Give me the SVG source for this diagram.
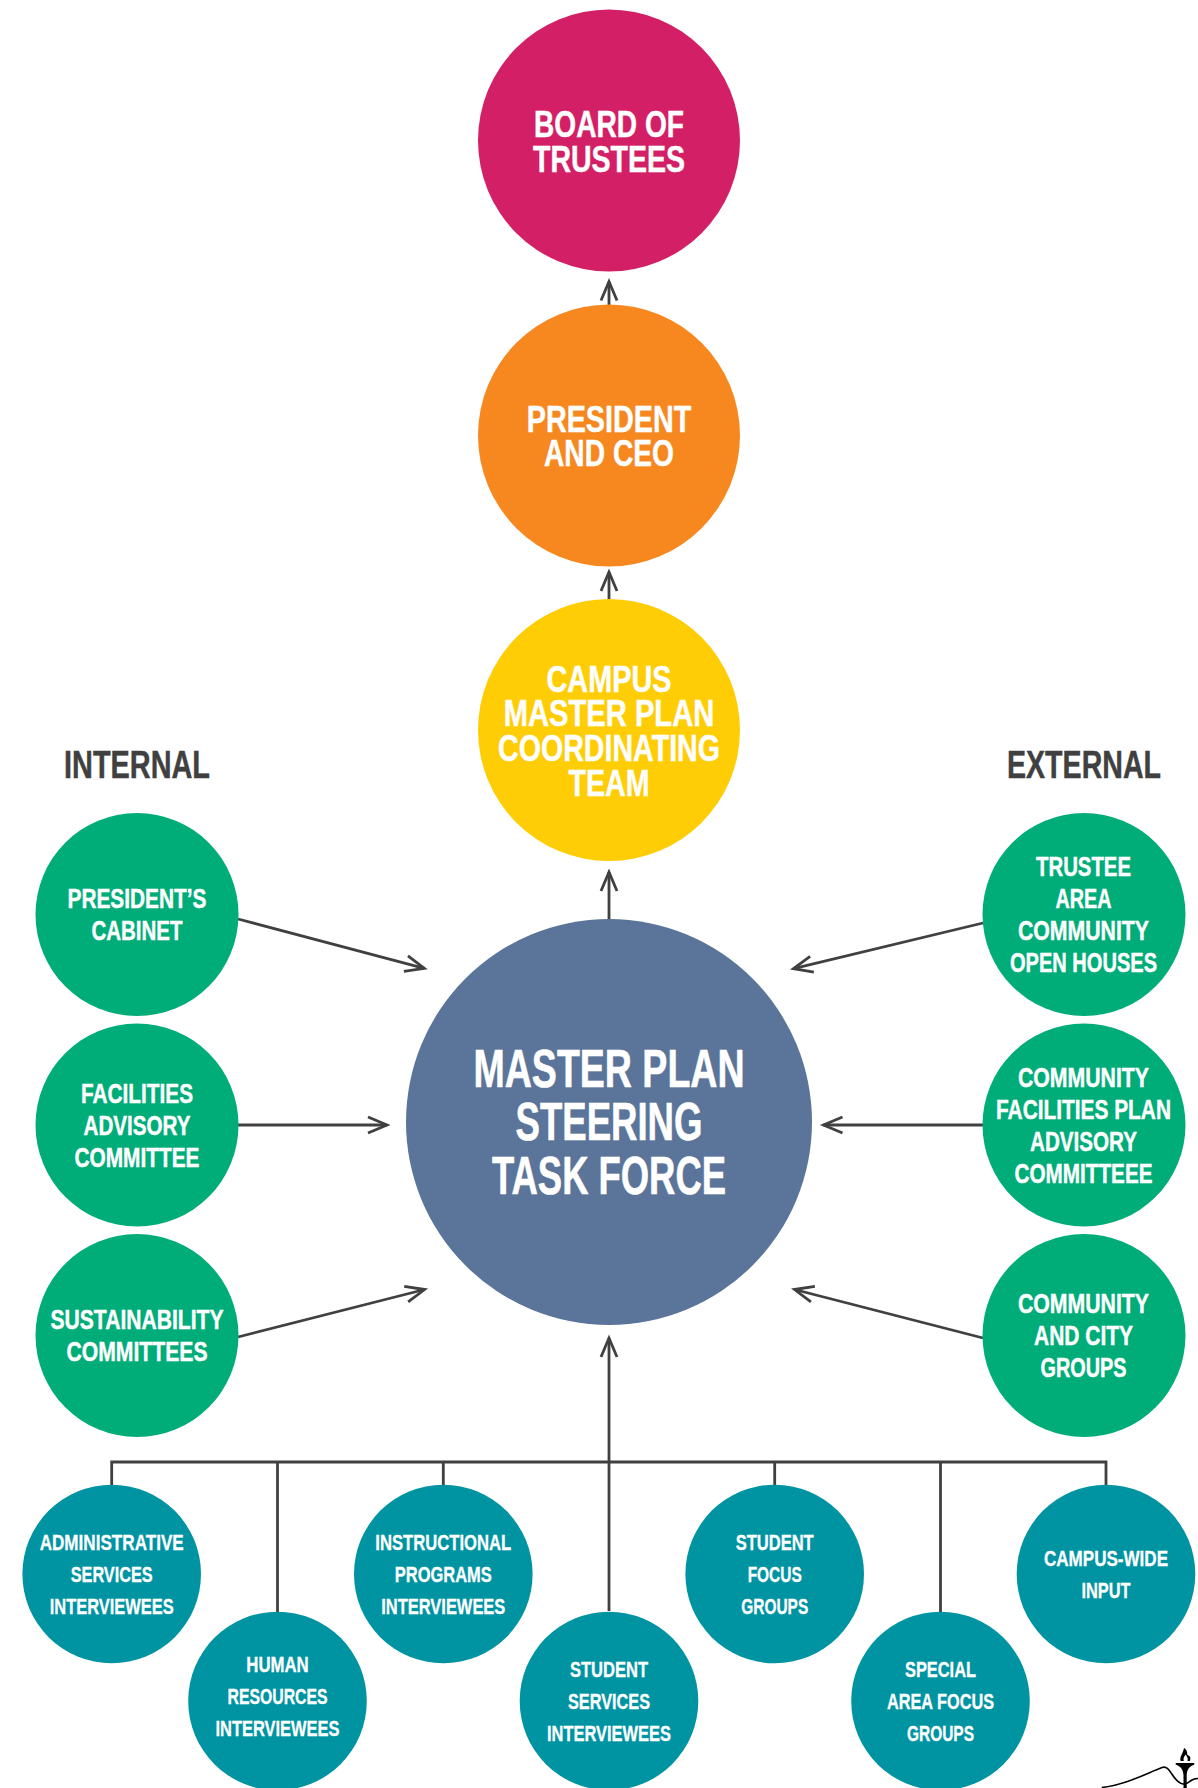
<svg xmlns="http://www.w3.org/2000/svg" width="1198" height="1788" viewBox="0 0 1198 1788">
<style>
text{font-family:"Liberation Sans Narrow","Liberation Sans",Arial,sans-serif;font-weight:700;fill:#fff;stroke:#fff;stroke-width:.45;text-anchor:middle}
.big{font-size:37px}.tf{font-size:54px;stroke-width:.6}.g{font-size:27px}.t{font-size:21.5px;stroke-width:.3}.h{font-size:38px;fill:#404040;stroke:#404040}
.c{stroke:#404040;stroke-width:2.8;fill:none}
.a{marker-end:url(#arrow)}
</style>
<defs>
<marker id="arrow" markerUnits="userSpaceOnUse" viewBox="-24 -11 30 22" refX="0" refY="0" markerWidth="30" markerHeight="22" orient="auto">
<path d="M-19 -8 L0 0 L-19 8" fill="none" stroke="#404040" stroke-width="2.8"/>
</marker>
</defs>
<g id="connectors">
<path class="c a" d="M609 305V281.5"/>
<path class="c a" d="M609 600V572"/>
<path class="c a" d="M609 920V872"/>
<path class="c a" d="M609 1611V1338"/>
<path class="c a" d="M238 919L424.3 968.4"/>
<path class="c a" d="M238 1125H387"/>
<path class="c a" d="M238 1337L424.6 1289.5"/>
<path class="c a" d="M983 923L793.5 968.7"/>
<path class="c a" d="M983 1125H823.5"/>
<path class="c a" d="M983 1338L794.5 1289.5"/>
<path class="c" d="M111.7 1485V1462H1106V1485M277.5 1462V1612M443.3 1462V1485M774.7 1462V1485M940.5 1462V1612"/>
</g>
<g id="board"><circle cx="609" cy="140.5" r="131" fill="#D31F66"/><text class="big" x="609" y="136.5" textLength="150" lengthAdjust="spacingAndGlyphs">BOARD OF</text><text class="big" x="609" y="171.5" textLength="152" lengthAdjust="spacingAndGlyphs">TRUSTEES</text></g>
<g id="president"><circle cx="609" cy="435.5" r="131" fill="#F78820"/><text class="big" x="609" y="432" textLength="164.5" lengthAdjust="spacingAndGlyphs">PRESIDENT</text><text class="big" x="609" y="466" textLength="130" lengthAdjust="spacingAndGlyphs">AND CEO</text></g>
<g id="coordinating"><circle cx="609" cy="730" r="131" fill="#FFCD05"/><text class="big" x="609" y="691.7" textLength="125" lengthAdjust="spacingAndGlyphs">CAMPUS</text><text class="big" x="609" y="726" textLength="210.5" lengthAdjust="spacingAndGlyphs">MASTER PLAN</text><text class="big" x="609" y="760.5" textLength="222" lengthAdjust="spacingAndGlyphs">COORDINATING</text><text class="big" x="609" y="795.5" textLength="81" lengthAdjust="spacingAndGlyphs">TEAM</text></g>
<g id="taskforce"><circle cx="609" cy="1122" r="203" fill="#5B7499"/><text class="tf" x="609" y="1087" textLength="271" lengthAdjust="spacingAndGlyphs">MASTER PLAN</text><text class="tf" x="609" y="1140" textLength="187" lengthAdjust="spacingAndGlyphs">STEERING</text><text class="tf" x="609" y="1194" textLength="234" lengthAdjust="spacingAndGlyphs">TASK FORCE</text></g>
<g id="internal-label"><text class="h" x="137" y="778" textLength="146" lengthAdjust="spacingAndGlyphs">INTERNAL</text></g>
<g id="external-label"><text class="h" x="1084" y="778" textLength="154" lengthAdjust="spacingAndGlyphs">EXTERNAL</text></g>
<g id="cabinet"><circle cx="137" cy="914.5" r="101.5" fill="#00AC78"/><text class="g" x="137" y="908" textLength="139" lengthAdjust="spacingAndGlyphs">PRESIDENT’S</text><text class="g" x="137" y="940" textLength="91" lengthAdjust="spacingAndGlyphs">CABINET</text></g>
<g id="facilities"><circle cx="137" cy="1125" r="101.5" fill="#00AC78"/><text class="g" x="137" y="1103" textLength="112" lengthAdjust="spacingAndGlyphs">FACILITIES</text><text class="g" x="137" y="1135" textLength="107" lengthAdjust="spacingAndGlyphs">ADVISORY</text><text class="g" x="137" y="1167" textLength="125" lengthAdjust="spacingAndGlyphs">COMMITTEE</text></g>
<g id="sustainability"><circle cx="137" cy="1335.5" r="101.5" fill="#00AC78"/><text class="g" x="137" y="1329" textLength="173" lengthAdjust="spacingAndGlyphs">SUSTAINABILITY</text><text class="g" x="137" y="1361" textLength="141" lengthAdjust="spacingAndGlyphs">COMMITTEES</text></g>
<g id="openhouses"><circle cx="1084" cy="914.5" r="101.5" fill="#00AC78"/><text class="g" x="1083.5" y="876" textLength="95" lengthAdjust="spacingAndGlyphs">TRUSTEE</text><text class="g" x="1083.5" y="908" textLength="56" lengthAdjust="spacingAndGlyphs">AREA</text><text class="g" x="1083.5" y="940" textLength="131" lengthAdjust="spacingAndGlyphs">COMMUNITY</text><text class="g" x="1083.5" y="972" textLength="147" lengthAdjust="spacingAndGlyphs">OPEN HOUSES</text></g>
<g id="cfpac"><circle cx="1084" cy="1125" r="101.5" fill="#00AC78"/><text class="g" x="1083.5" y="1087" textLength="131" lengthAdjust="spacingAndGlyphs">COMMUNITY</text><text class="g" x="1083.5" y="1119" textLength="175" lengthAdjust="spacingAndGlyphs">FACILITIES PLAN</text><text class="g" x="1083.5" y="1151" textLength="107" lengthAdjust="spacingAndGlyphs">ADVISORY</text><text class="g" x="1083.5" y="1183" textLength="138" lengthAdjust="spacingAndGlyphs">COMMITTEEE</text></g>
<g id="cityg"><circle cx="1084" cy="1335.5" r="101.5" fill="#00AC78"/><text class="g" x="1083.5" y="1313" textLength="131" lengthAdjust="spacingAndGlyphs">COMMUNITY</text><text class="g" x="1083.5" y="1345" textLength="99" lengthAdjust="spacingAndGlyphs">AND CITY</text><text class="g" x="1083.5" y="1377" textLength="86" lengthAdjust="spacingAndGlyphs">GROUPS</text></g>
<g id="admin"><circle cx="111.7" cy="1574" r="89.3" fill="#0094A3"/><text class="t" x="111.7" y="1550" textLength="144" lengthAdjust="spacingAndGlyphs">ADMINISTRATIVE</text><text class="t" x="111.7" y="1582" textLength="82" lengthAdjust="spacingAndGlyphs">SERVICES</text><text class="t" x="111.7" y="1614" textLength="124" lengthAdjust="spacingAndGlyphs">INTERVIEWEES</text></g>
<g id="hr"><circle cx="277.5" cy="1701" r="89.3" fill="#0094A3"/><text class="t" x="277.5" y="1672" textLength="62.5" lengthAdjust="spacingAndGlyphs">HUMAN</text><text class="t" x="277.5" y="1704" textLength="100" lengthAdjust="spacingAndGlyphs">RESOURCES</text><text class="t" x="277.5" y="1736" textLength="124" lengthAdjust="spacingAndGlyphs">INTERVIEWEES</text></g>
<g id="instr"><circle cx="443.3" cy="1574" r="89.3" fill="#0094A3"/><text class="t" x="443.3" y="1550" textLength="136" lengthAdjust="spacingAndGlyphs">INSTRUCTIONAL</text><text class="t" x="443.3" y="1582" textLength="97" lengthAdjust="spacingAndGlyphs">PROGRAMS</text><text class="t" x="443.3" y="1614" textLength="124" lengthAdjust="spacingAndGlyphs">INTERVIEWEES</text></g>
<g id="studserv"><circle cx="609" cy="1701" r="89.3" fill="#0094A3"/><text class="t" x="609" y="1676.5" textLength="78" lengthAdjust="spacingAndGlyphs">STUDENT</text><text class="t" x="609" y="1708.5" textLength="82" lengthAdjust="spacingAndGlyphs">SERVICES</text><text class="t" x="609" y="1740.5" textLength="124" lengthAdjust="spacingAndGlyphs">INTERVIEWEES</text></g>
<g id="studfocus"><circle cx="774.7" cy="1574" r="89.3" fill="#0094A3"/><text class="t" x="774.7" y="1550" textLength="78" lengthAdjust="spacingAndGlyphs">STUDENT</text><text class="t" x="774.7" y="1582" textLength="54" lengthAdjust="spacingAndGlyphs">FOCUS</text><text class="t" x="774.7" y="1614" textLength="67" lengthAdjust="spacingAndGlyphs">GROUPS</text></g>
<g id="special"><circle cx="940.5" cy="1701" r="89.3" fill="#0094A3"/><text class="t" x="940.5" y="1676.5" textLength="71" lengthAdjust="spacingAndGlyphs">SPECIAL</text><text class="t" x="940.5" y="1708.5" textLength="107" lengthAdjust="spacingAndGlyphs">AREA FOCUS</text><text class="t" x="940.5" y="1740.5" textLength="67" lengthAdjust="spacingAndGlyphs">GROUPS</text></g>
<g id="campuswide"><circle cx="1106" cy="1574" r="89.3" fill="#0094A3"/><text class="t" x="1106" y="1566" textLength="124" lengthAdjust="spacingAndGlyphs">CAMPUS-WIDE</text><text class="t" x="1106" y="1598" textLength="49" lengthAdjust="spacingAndGlyphs">INPUT</text></g>
<g id="logo" fill="#000">
<path d="M1101.7 1787.5C1125 1785 1145 1774 1162 1767.5C1171 1764.5 1172 1782 1183 1784C1189 1785 1190 1778 1198 1778.5" fill="none" stroke="#000" stroke-width="1.6"/>
<path d="M1175.7 1763H1194.3V1764.5C1190 1766 1187 1769 1186.7 1775V1788H1183.5V1775C1183.2 1769 1180 1766 1175.7 1764.5Z"/>
<path d="M1180.5 1761C1179.5 1756 1183 1754 1184 1748C1187.5 1750 1187 1753 1187.5 1755C1190.5 1756 1191 1758 1189.8 1761H1187.5C1188.5 1758.5 1187 1757 1185.8 1754.5C1184 1756.5 1183 1758.5 1183.8 1761Z"/>
</g>
</svg>
